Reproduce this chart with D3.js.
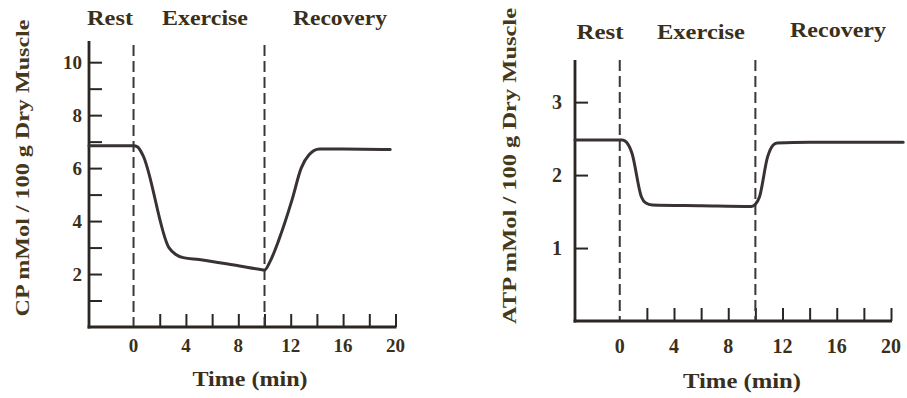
<!DOCTYPE html>
<html>
<head>
<meta charset="utf-8">
<script src="https://cdn.jsdelivr.net/npm/d3@7"></script>
<style>
  html, body { margin: 0; padding: 0; background: #ffffff; }
  svg { display: block; }
  text { font-family: "Liberation Serif", "Times New Roman", serif; font-weight: bold; }
</style>
</head>
<body>
<svg id="chart" width="907" height="398"></svg>
<script>
// Creatine phosphate (CP) content over time, mMol / 100 g dry muscle
const cpTime  = [-3.4, 0, 0.3, 0.7, 2.7, 3.2, 3.8, 5, 8.1, 9.7, 10, 10.4, 11.1, 12.1, 12.8, 13.4, 14.2, 16, 19.6];
const cpValue = [6.84, 6.84, 6.8, 6.5, 3.0, 2.75, 2.62, 2.55, 2.3, 2.17, 2.15, 2.45, 3.3, 4.8, 6.0, 6.5, 6.72, 6.72, 6.7];

// ATP content over time, mMol / 100 g dry muscle
const atpTime  = [-3.3, 0.2, 0.5, 0.9, 1.6, 1.9, 2.4, 6, 9.7, 10.0, 10.3, 10.9, 11.3, 11.6, 14, 20.9];
const atpValue = [2.48, 2.48, 2.45, 2.3, 1.7, 1.62, 1.59, 1.58, 1.57, 1.6, 1.7, 2.25, 2.41, 2.44, 2.45, 2.45];

// Phase boundaries (min) and phase names
const phaseBounds = [0, 10];
const phaseNames = ["Rest", "Exercise", "Recovery"];

// Axis ticks
const xTicks = [2, 4, 6, 8, 10, 12, 14, 16, 18, 20];
const xTickLabels = [0, 4, 8, 12, 16, 20];
const cpYTicks = [1, 2, 3, 4, 5, 6, 7, 8, 9, 10];
const cpYLabels = [2, 4, 6, 8, 10];
const atpYTicks = [1, 2, 3];
const atpYLabels = [1, 2, 3];

const xTitle = "Time (min)";
const cpTitle = "CP mMol / 100 g Dry Muscle";
const atpTitle = "ATP mMol / 100 g Dry Muscle";

const svg = d3.select("#chart");
const ink = "#2b2622";
const textInk = "#3a2f1a";

function panel(cfg) {
  const g = svg.append("g");
  const x = d3.scaleLinear().domain(cfg.xDomain).range(cfg.xRange);
  const y = d3.scaleLinear().domain(cfg.yDomain).range(cfg.yRange);
  const base = y(0);

  // y ticks (pointing into the plot), labels on the left
  const yAxis = d3.axisLeft(y).tickValues(cfg.yTicks).tickSize(-13).tickPadding(cfg.yPad)
    .tickFormat(d => cfg.yLabels.includes(d) ? d : "");
  const ya = g.append("g").attr("transform", `translate(${x(cfg.xDomain[0])},0)`).call(yAxis);
  ya.select(".domain").remove();
  ya.selectAll(".tick line").attr("stroke", ink).attr("stroke-width", 2);
  ya.selectAll(".tick text").attr("fill", textInk).attr("font-size", cfg.tickFont)
    .style("font-family", "'Liberation Serif', serif").style("font-weight", "bold");

  // x ticks (pointing up), labels below
  const xAxis = d3.axisBottom(x).tickValues(xTicks).tickSize(-13).tickFormat("");
  const xa = g.append("g").attr("transform", `translate(0,${base})`).call(xAxis);
  xa.select(".domain").remove();
  xa.selectAll(".tick line").attr("stroke", ink).attr("stroke-width", 2);

  g.selectAll("text.xl").data(xTickLabels).join("text").attr("class", "xl")
    .attr("x", d => x(d)).attr("y", cfg.xLabelY)
    .attr("text-anchor", "middle").attr("font-size", cfg.tickFont).attr("fill", textInk)
    .text(d => d);

  // phase boundaries
  g.selectAll("line.phase").data(phaseBounds).join("line").attr("class", "phase")
    .attr("x1", d => x(d)).attr("x2", d => x(d))
    .attr("y1", cfg.dashTop).attr("y2", base)
    .attr("stroke", "#3a3636").attr("stroke-width", 2).attr("stroke-dasharray", "11,5");

  // axis lines
  g.append("line").attr("x1", x(cfg.xDomain[0])).attr("x2", x(cfg.xDomain[0]))
    .attr("y1", cfg.axisTop).attr("y2", base + 1.5)
    .attr("stroke", ink).attr("stroke-width", 2.8);
  g.append("line").attr("x1", x(cfg.xDomain[0]) - 1.4).attr("x2", x(20) + 1)
    .attr("y1", base).attr("y2", base)
    .attr("stroke", ink).attr("stroke-width", 2.8);

  // data curve
  const line = d3.line().x(d => x(d[0])).y(d => y(d[1])).curve(d3.curveMonotoneX);
  g.append("path").datum(d3.zip(cfg.t, cfg.v)).attr("d", line)
    .attr("fill", "none").attr("stroke", "#393232").attr("stroke-width", 3)
    .attr("stroke-linejoin", "round").attr("stroke-linecap", "round");

  // phase names
  g.selectAll("text.phase").data(phaseNames).join("text").attr("class", "phase")
    .attr("x", (d, i) => cfg.phaseX[i]).attr("y", (d, i) => cfg.phaseY[i])
    .attr("text-anchor", "middle").attr("font-size", 20).attr("fill", textInk)
    .attr("textLength", (d, i) => cfg.phaseW[i]).attr("lengthAdjust", "spacingAndGlyphs")
    .text(d => d);

  // axis titles
  g.append("text").attr("x", cfg.xTitleX).attr("y", cfg.xTitleY)
    .attr("text-anchor", "middle").attr("font-size", 20).attr("fill", textInk)
    .attr("textLength", cfg.xTitleW).attr("lengthAdjust", "spacingAndGlyphs")
    .text(xTitle);
  g.append("text")
    .attr("transform", `translate(${cfg.yTitleX},${cfg.yTitleY}) rotate(-90)`)
    .attr("text-anchor", "middle").attr("font-size", 19).attr("fill", "#45391a")
    .attr("textLength", cfg.yTitleW).attr("lengthAdjust", "spacingAndGlyphs")
    .text(cfg.yTitle);
}

panel({
  xDomain: [-3.4, 20], xRange: [89, 395.5],
  yDomain: [0, 10.8], yRange: [327, 41],
  yTicks: cpYTicks, yLabels: cpYLabels, yPad: 7, tickFont: 19,
  xLabelY: 352, dashTop: 45, axisTop: 41,
  t: cpTime, v: cpValue,
  phaseX: [110, 205, 340], phaseY: [25, 25, 25], phaseW: [46, 86, 94],
  xTitleX: 250, xTitleY: 386, xTitleW: 115,
  yTitleX: 29, yTitleY: 168, yTitleW: 297, yTitle: cpTitle
});

panel({
  xDomain: [-3.3, 20], xRange: [575, 891],
  yDomain: [0, 3.55], yRange: [321, 62],
  yTicks: atpYTicks, yLabels: atpYLabels, yPad: 13, tickFont: 20,
  xLabelY: 353, dashTop: 60, axisTop: 60,
  t: atpTime, v: atpValue,
  phaseX: [600, 701, 838], phaseY: [39, 39, 37], phaseW: [47, 88, 96],
  xTitleX: 742, xTitleY: 388, xTitleW: 118,
  yTitleX: 516, yTitleY: 166, yTitleW: 316, yTitle: atpTitle
});
</script>
</body>
</html>
